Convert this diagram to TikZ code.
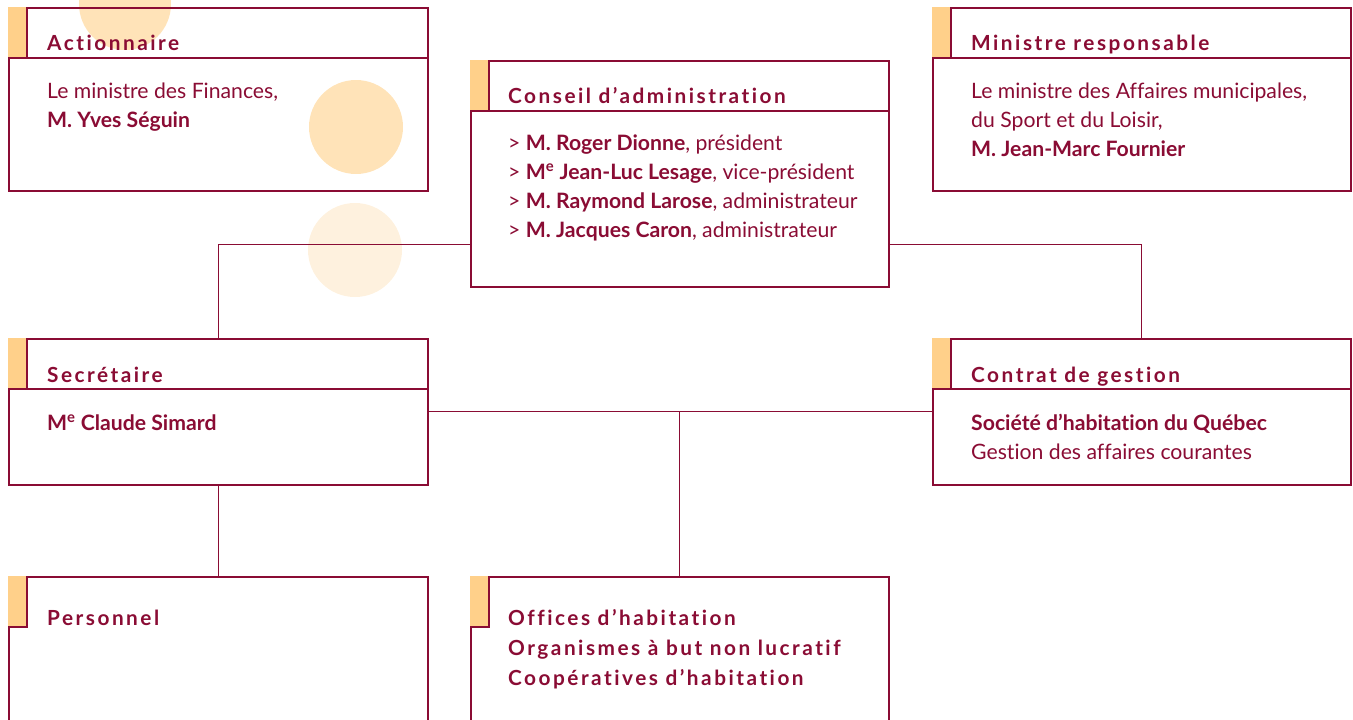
\documentclass[tikz,border=0pt]{standalone}
\usepackage{fontspec}
\setmainfont{Lato}[Ligatures={NoCommon}]
\newfontfamily\ttlfont{Lato}[LetterSpace=12,Ligatures={NoCommon}]
\usetikzlibrary{calc}
\definecolor{maroon}{HTML}{8A0C34}
\definecolor{tabc}{HTML}{FFD08A}
\definecolor{circA}{HTML}{FFE3B8}
\definecolor{circB}{HTML}{FEF1DE}
\tikzset{
  box/.style={draw=maroon, line width=1.6pt, inner sep=0pt, anchor=north west},
  conn/.style={draw=maroon, line width=1.3pt},
  ttl/.style={anchor=base west, inner sep=0pt, text=maroon, font=\ttlfont\bfseries\fontsize{20.8}{24}\selectfont},
  txt/.style={anchor=base west, inner sep=0pt, text=maroon, font=\fontsize{21.2}{25}\selectfont},
  btxt/.style={txt, font=\bfseries\fontsize{21.2}{25}\selectfont},
}
\newcommand{\tabmark}[2]{%
  \fill[tabc] (#1.north west) rectangle ([xshift=19pt,yshift=-#2pt]#1.north west);
  \draw[maroon, line width=1.4pt] ([xshift=19pt]#1.north west) -- ([xshift=19pt,yshift=-#2pt]#1.north west) -- ([yshift=-#2pt]#1.north west);}
\begin{document}
\begin{tikzpicture}[x=1pt,y=-1pt]
\useasboundingbox (0,0) rectangle (1353,720);
% decorative circles
\fill[circA] (125,4) circle[radius=46];
\fill[circA] (356,127) circle[radius=47];
\fill[circB] (355,250) circle[radius=47];
% boxes
\node[box, minimum width=419pt, minimum height=183pt] (act) at (8,7) {};
\node[box, minimum width=418pt, minimum height=226pt] (cons) at (470,60) {};
\node[box, minimum width=418pt, minimum height=183pt] (min) at (932,7) {};
\node[box, minimum width=419pt, minimum height=146pt] (sec) at (8,338) {};
\node[box, minimum width=418pt, minimum height=146pt] (con) at (932,338) {};
\node[box, minimum width=419pt, minimum height=170pt] (pers) at (8,576) {};
\node[box, minimum width=418pt, minimum height=170pt] (off) at (470,576) {};
% header dividers
\foreach \n in {act,cons,min,sec,con}{
  \draw[maroon, line width=1.4pt] ([yshift=-51pt]\n.north west) -- ([yshift=-51pt]\n.north east);
}
\foreach \n in {act,cons,min,sec,con,pers,off}{\tabmark{\n}{51}}
% connectors
\coordinate (cl) at ($(cons.south west)+(0,-43)$);
\coordinate (cr) at ($(cons.south east)+(0,-43)$);
\draw[conn] (cl) -| (sec.north);
\draw[conn] (cr) -| (con.north);
\draw[conn] (sec.east) -- (con.west);
\draw[conn] (off.north) -- (off.north |- sec.east);
\draw[conn] (sec.south) -- (pers.north);
% texts
\node[ttl] (t1) at (47,50) {Actionnaire};
\node[txt] (a1) at (47,98) {Le ministre des Finances,};
\node[btxt] (a2) at (47,127) {M. Yves Séguin};

\node[ttl] (t2) at (508,103) {Conseil d’administration};
\node[txt] (c1) at (508,150) {> \textbf{M. Roger Dionne}, président};
\node[txt] (c2) at (508,179) {> \textbf{M\textsuperscript{e} Jean-Luc Lesage}, vice-président};
\node[txt] (c3) at (508,208) {> \textbf{M. Raymond Larose}, administrateur};
\node[txt] (c4) at (508,237) {> \textbf{M. Jacques Caron}, administrateur};

\node[ttl] (t3) at (971,50) {Ministre responsable};
\node[txt] (m1) at (971,98) {Le ministre des Affaires municipales,};
\node[txt] (m2) at (971,127) {du Sport et du Loisir,};
\node[btxt] (m3) at (971,156) {M. Jean-Marc Fournier};

\node[ttl] (t4) at (47,382) {Secrétaire};
\node[btxt] (s1) at (47,430) {M\textsuperscript{e} Claude Simard};

\node[ttl] (t5) at (971,382) {Contrat de gestion};
\node[btxt] (g1) at (971,430) {Société d’habitation du Québec};
\node[txt] (g2) at (971,459) {Gestion des affaires courantes};

\node[ttl] (t6) at (47,625) {Personnel};
\node[ttl] (o1) at (508,625) {Offices d’habitation};
\node[ttl] (o2) at (508,655) {Organismes à but non lucratif};
\node[ttl] (o3) at (508,685) {Coopératives d’habitation};
\end{tikzpicture}
\end{document}
